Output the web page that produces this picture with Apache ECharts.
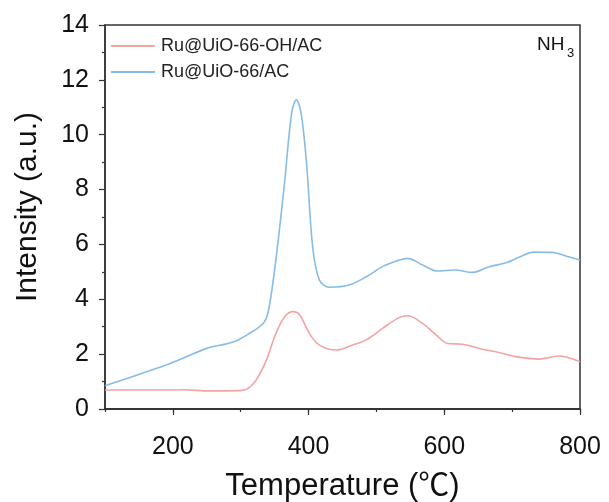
<!DOCTYPE html>
<html>
<head>
<meta charset="utf-8">
<script src="https://cdn.jsdelivr.net/npm/echarts@6/dist/echarts.min.js"></script>
<style>
html,body{margin:0;padding:0;background:#fff;}
#chart{width:609px;height:502px;}
</style>
</head>
<body>
<div id="chart"></div>
<script>
var seriesNames = ['Ru@UiO-66-OH/AC', 'Ru@UiO-66/AC'];

var tempRed = [100, 190, 215, 254, 298, 311, 323, 338, 352, 365, 377, 387, 401, 416, 441, 465, 485, 509, 534, 546, 568, 588, 605, 627, 656, 676, 705, 740, 769, 800];
var valRed  = [0.69, 0.69, 0.70, 0.66, 0.67, 0.75, 1.06, 1.79, 2.76, 3.37, 3.55, 3.43, 2.76, 2.33, 2.15, 2.33, 2.52, 2.94, 3.34, 3.40, 3.12, 2.70, 2.39, 2.36, 2.18, 2.09, 1.91, 1.82, 1.93, 1.72];

var tempBlue = [100, 140, 190, 215, 250, 290, 313, 333, 340, 348, 357, 365, 375, 382, 389, 397, 406, 416, 431, 460, 485, 509, 534, 546, 568, 590, 615, 642, 666, 691, 710, 732, 759, 779, 800];
var valBlue  = [0.85, 1.18, 1.60, 1.85, 2.21, 2.45, 2.76, 3.12, 3.49, 4.70, 6.53, 8.35, 10.78, 11.27, 10.78, 8.96, 5.92, 4.70, 4.44, 4.52, 4.82, 5.19, 5.43, 5.49, 5.25, 5.03, 5.07, 4.98, 5.19, 5.33, 5.53, 5.72, 5.71, 5.58, 5.43];

var xMin = 100, xMax = 800, yMin = 0, yMax = 14, yStep = 2;

function pairs(xs, ys) { return xs.map(function (x, i) { return [x, ys[i]]; }); }

var FONT = "'Liberation Sans', Arial, 'Noto Sans CJK SC', sans-serif";
var AX = '#333';

var chart = echarts.init(document.getElementById('chart'), null, {renderer: 'canvas'});
chart.setOption({
  animation: false,
  backgroundColor: '#fff',
  grid: {left: 105, right: 29, top: 25, bottom: 93, containLabel: false, outerBoundsMode: 'none',
         show: true, borderColor: AX, borderWidth: 1.5, backgroundColor: 'transparent'},
  legend: {
    orient: 'vertical', left: 105, top: 32, itemWidth: 44, itemHeight: 12, itemGap: 8,
    data: seriesNames,
    itemStyle: {opacity: 0},
    textStyle: {fontFamily: FONT, fontSize: 18, color: '#222', padding: [0, 0, 0, 1]}
  },
  xAxis: [{
    type: 'value', min: xMin, max: xMax, interval: 100, position: 'bottom',
    axisLine: {show: true, lineStyle: {color: AX, width: 1.5}},
    axisTick: {show: true, inside: false, length: 3, lineStyle: {color: AX, width: 1.2}},
    axisLabel: {show: false},
    splitLine: {show: false}
  }, {
    type: 'value', min: xMin, max: xMax, splitNumber: 4, position: 'bottom',
    name: 'Temperature (℃)', nameLocation: 'middle', nameGap: 62,
    nameTextStyle: {fontFamily: FONT, fontSize: 31, color: '#111'},
    axisLine: {show: true, lineStyle: {color: AX, width: 1.5}},
    axisTick: {show: true, inside: false, length: 6, lineStyle: {color: AX, width: 1.2}},
    axisLabel: {show: true, showMinLabel: false, margin: 26, fontFamily: FONT, fontSize: 25, color: '#111'},
    splitLine: {show: false}
  }],
  yAxis: {
    type: 'value', min: yMin, max: yMax, interval: yStep,
    name: 'Intensity (a.u.)', nameLocation: 'middle', nameGap: 62,
    nameTextStyle: {fontFamily: FONT, fontSize: 30, color: '#111', padding: [0, 0, 0, 20]},
    axisLine: {show: true, lineStyle: {color: AX, width: 1.5}},
    axisTick: {show: true, inside: false, length: 6, lineStyle: {color: AX, width: 1.2}},
    minorTick: {show: true, splitNumber: 2, length: 3, lineStyle: {color: AX, width: 1.2}},
    axisLabel: {margin: 16, fontFamily: FONT, fontSize: 25, color: '#111'},
    splitLine: {show: false}
  },
  graphic: [
    {type: 'text', left: 537, top: 35, style: {text: 'NH', font: "19px 'Liberation Sans', Arial, sans-serif", fill: '#111'}},
    {type: 'text', left: 567, top: 47, style: {text: '3', font: "13px 'Liberation Sans', Arial, sans-serif", fill: '#111'}}
  ],
  series: [{
    name: seriesNames[0], type: 'line', xAxisIndex: 0, data: pairs(tempRed, valRed),
    smooth: 0.35, symbol: 'none', lineStyle: {color: '#f4a3a3', width: 1.6}, itemStyle: {color: '#f4a3a3'}
  }, {
    name: seriesNames[1], type: 'line', xAxisIndex: 0, data: pairs(tempBlue, valBlue),
    smooth: 0.35, symbol: 'none', lineStyle: {color: '#86bde8', width: 1.6}, itemStyle: {color: '#86bde8'}
  }]
});
</script>
</body>
</html>
